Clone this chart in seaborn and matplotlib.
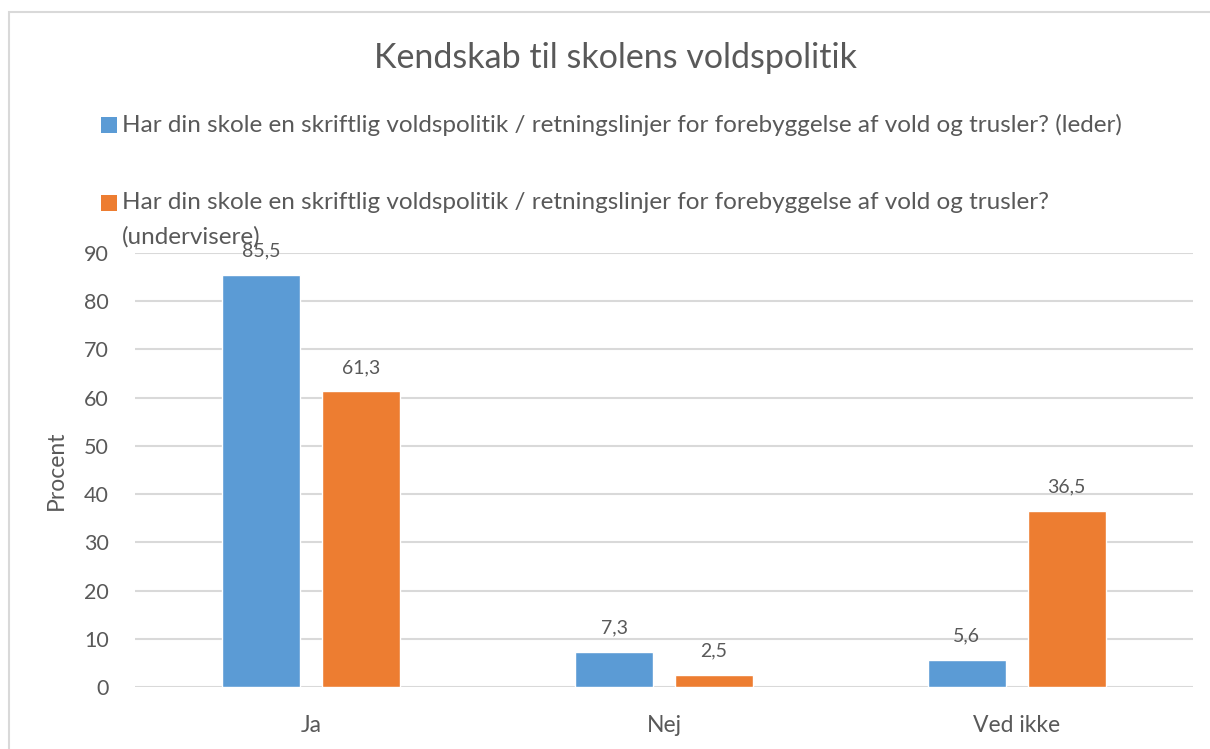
import seaborn as sns
import matplotlib.pyplot as plt
import pandas as pd
from matplotlib.patches import Rectangle

# data
kategorier = ['Ja', 'Nej', 'Ved ikke']
leder = [85.5, 7.3, 5.6]
undervisere = [61.3, 2.5, 36.5]
serie_navne = ['Har din skole en skriftlig voldspolitik / retningslinjer for forebyggelse af vold og trusler? (leder)',
               'Har din skole en skriftlig voldspolitik / retningslinjer for forebyggelse af vold og trusler? (undervisere)']
y_ticks = [0, 10, 20, 30, 40, 50, 60, 70, 80, 90]

blaa = '#5B9BD5'
orange = '#ED7D31'
tekst = '#595959'
gitter = '#D9D9D9'

df = pd.DataFrame({
    'svar': kategorier * 2,
    'procent': leder + undervisere,
    'gruppe': [serie_navne[0]] * 3 + [serie_navne[1]] * 3,
})

sns.set_style('white')
plt.rcParams['font.family'] = ['Lato', 'DejaVu Sans']

W, H = 1210, 749
fig = plt.figure(figsize=(W / 100, H / 100), dpi=100)
ax = fig.add_axes([135 / W, 1 - 687 / H, (1193 - 135) / W, (687 - 253) / H])

sns.barplot(data=df, x='svar', y='procent', hue='gruppe', hue_order=serie_navne,
            palette=[blaa, orange], saturation=1, width=0.567, gap=0.22,
            legend=False, ax=ax, zorder=3)

# dataetiketter med komma
for c in ax.containers:
    ax.bar_label(c, labels=[f'{v:.1f}'.replace('.', ',') for v in c.datavalues],
                 padding=11, fontsize=14, color=tekst)

ax.set_ylim(0, 90)
ax.set_yticks(y_ticks)
ax.yaxis.grid(True, color=gitter, linewidth=1.5)
ax.set_axisbelow(True)
for s in ax.spines.values():
    s.set_visible(False)
ax.tick_params(axis='y', length=0, pad=19, labelsize=15.5, labelcolor=tekst)
ax.tick_params(axis='x', length=0, pad=20, labelsize=16.5, labelcolor=tekst)
ax.set_xlabel('')
ax.set_ylabel('Procent', fontsize=16.5, color=tekst, labelpad=12)

# titel
fig.text(616 / W, 1 - 58 / H, 'Kendskab til skolens voldspolitik',
         ha='center', va='center', fontsize=24.5, color=tekst)

# forklaring
for i, (navn, farve) in enumerate(zip(serie_navne, [blaa, orange])):
    yc = [125, 203][i]
    fig.patches.append(Rectangle((101 / W, 1 - (yc + 8) / H), 16 / W, 16 / H,
                                 transform=fig.transFigure, facecolor=farve,
                                 edgecolor='none'))
    linjer = [navn] if i == 0 else [navn.replace(' (undervisere)', ''), '(undervisere)']
    for j, linje in enumerate(linjer):
        fig.text(122 / W, 1 - (yc + 34 * j) / H, linje, ha='left', va='center',
                 fontsize=17.5, color=tekst)

# ramme
fig.patches.append(Rectangle((9 / W, -0.1), 1.2, 1 - 12 / H + 0.1,
                             transform=fig.transFigure, facecolor='none',
                             edgecolor=gitter, linewidth=1.5))

plt.savefig('out.png', dpi=100)
